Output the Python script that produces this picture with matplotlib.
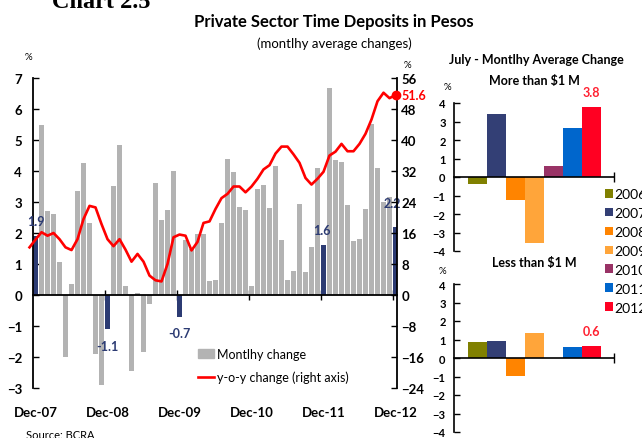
import numpy as np
import matplotlib
matplotlib.use("Agg")
import matplotlib.pyplot as plt
from matplotlib.patches import Patch
from matplotlib.lines import Line2D
import matplotlib.transforms as mtransforms

plt.rcParams['font.family'] = ['Lato', 'DejaVu Sans']

# monthly average change (%), Dec-07 .. Dec-12
monthly = [1.9, 5.5, 2.7, 2.6, 1.05, -2.0, 0.37, 3.37, 4.27, 2.33, -1.9, -2.9,
           -1.1, 3.53, 4.85, 0.3, -2.44, 0.08, -1.83, -0.28, 3.62, 2.43, 2.75, 4.01,
           -0.7, 1.78, 1.5, 1.98, 1.98, 0.46, 0.49, 2.33, 4.4, 3.98, 2.85, 2.75,
           0.3, 3.43, 3.56, 2.82, 4.17, 1.78, 0.49, 0.78, 2.95, 0.75, 1.56, 4.1,
           1.6, 6.68, 4.35, 4.3, 2.9, 1.75, 1.81, 2.77, 5.52, 4.1, 3.0, 3.16,
           2.2]
# year-on-year change (%), Nov-07 .. Dec-12 (right axis)
yoy = [12.3, 14.3, 16.2, 15.3, 16.0, 14.4, 12.3, 11.6, 14.4, 19.6, 23.0, 22.6,
       18.3, 14.4, 12.6, 14.4, 11.7, 8.6, 10.6, 8.6, 5.0, 3.8, 3.5, 8.0,
       14.9, 15.6, 15.3, 11.5, 13.7, 18.6, 19.0, 22.2, 25.0, 26.1, 28.0, 28.0,
       26.5, 28.0, 30.0, 32.4, 33.5, 36.5, 38.3, 38.3, 36.3, 34.1, 30.2, 28.5,
       30.0, 31.8, 36.0, 37.0, 39.0, 37.1, 37.1, 39.0, 41.6, 45.3, 50.0, 52.2,
       50.8, 51.6]
month_labels = ['Dec-07', 'Dec-08', 'Dec-09', 'Dec-10', 'Dec-11', 'Dec-12']
highlight = [0, 12, 24, 48, 60]   # December bars with value labels
hl_offsets = [(0, 11), (0, -12), (0, -12), (-1, 11), (-2, 17)]  # label offsets in points

years = ['2006', '2007', '2008', '2009', '2010', '2011', '2012']
more_1m = [-0.4, 3.4, -1.27, -3.57, 0.61, 2.65, 3.78]
less_1m = [0.86, 0.92, -0.97, 1.35, 0.0, 0.59, 0.63]

gray = '#b3b3b3'
navy = '#2c3b73'
red = '#ff0000'
year_colors = ['#808000', '#333f75', '#ff8400', '#ffa53a', '#993366', '#0066cc', '#ff0022']

W, H = 642, 439
fig = plt.figure(figsize=(W / 100, H / 100), dpi=100)

def fx(px):
    return px / W

def fy(py):
    return 1 - py / H

# ---------- main chart ----------
ax = fig.add_axes([fx(33), fy(389), fx(364), 310 / H])
x = np.arange(len(monthly))
bar_colors = [navy if i in highlight else gray for i in x]
ax.bar(x, monthly, width=0.8, color=bar_colors, zorder=2)
ax.set_xlim(-0.42, 60.25)
ax.set_ylim(-3, 7)
ax.set_yticks(range(-3, 8))
ax.tick_params(axis='y', direction='in', length=4, width=1, pad=8,
               labelsize=9.5)
for t in ax.get_yticklabels():
    t.set_fontweight('bold')
ax.spines['top'].set_visible(False)
ax.spines['right'].set_visible(False)
ax.spines['bottom'].set_position(('data', 0))
ax.spines['left'].set_linewidth(1.3)
ax.spines['bottom'].set_linewidth(1.3)
ax.set_xticks(np.arange(11.5, 61, 12))
ax.set_xticklabels([])
ax.tick_params(axis='x', direction='inout', length=7, width=1)

trans = mtransforms.blended_transform_factory(ax.transData, ax.transAxes)
for i, lab in enumerate(month_labels):
    ax.text(i * 12, -0.077, lab, transform=trans, ha='center', va='center',
            fontsize=9.5, fontweight='bold')

for i, (dx, dy) in zip(highlight, hl_offsets):
    ax.annotate(f'{monthly[i]:.1f}', (i, monthly[i]), xytext=(dx, dy),
                textcoords='offset points', ha='center', va='center',
                fontsize=9, fontweight='bold', color=navy)

ax2 = ax.twinx()
ax2.set_ylim(-24, 56)
ax2.set_yticks(range(-24, 57, 8))
xl = np.arange(-1, len(yoy) - 1)
ax2.plot(xl, yoy, color=red, lw=1.9, clip_on=False, zorder=3)
ax2.plot(xl[-1], yoy[-1], 'o', color=red, ms=6, clip_on=False, zorder=4)
ax2.annotate(f'{yoy[-1]:.1f}', (xl[-1], yoy[-1]), xytext=(4, 0),
             textcoords='offset points', ha='left', va='center',
             fontsize=9, fontweight='bold', color=red)
for s in ['top', 'left', 'bottom']:
    ax2.spines[s].set_visible(False)
ax2.spines['right'].set_linewidth(1.3)
ax2.tick_params(axis='y', direction='in', length=4, width=1, pad=3, labelsize=9.5)
for t in ax2.get_yticklabels():
    t.set_fontweight('bold')

fig.legend(handles=[Patch(color=gray), Line2D([], [], color=red, lw=1.9)],
           labels=['Montlhy change', 'y-o-y change (right axis)'],
           loc='upper left', bbox_to_anchor=(fx(198), fy(349)), frameon=False,
           fontsize=9, handlelength=1.3, handleheight=0.8, handletextpad=0.25,
           labelspacing=0.85, borderpad=0, borderaxespad=0)

# ---------- titles & notes ----------
fig.text(fx(52), fy(8), 'Chart 2.5', family='Liberation Serif', fontweight='bold',
         fontsize=17.5, ha='left', va='baseline')
fig.text(fx(334), fy(22), 'Private Sector Time Deposits in Pesos', fontsize=12,
         fontweight='bold', ha='center', va='center')
fig.text(fx(334), fy(44), '(montlhy average changes)', fontsize=9.5,
         ha='center', va='center')
fig.text(fx(28), fy(57), '%', fontsize=7, ha='center', va='center')
fig.text(fx(407), fy(66), '%', fontsize=7, ha='center', va='center')
fig.text(fx(26), fy(430), 'Source: BCRA', fontsize=8, ha='left', va='top')

fig.text(fx(536), fy(60), 'July - Montlhy Average Change', fontsize=9,
         fontweight='bold', ha='center', va='center')
fig.text(fx(534), fy(81), 'More than $1 M', fontsize=9,
         fontweight='bold', ha='center', va='center')
fig.text(fx(534), fy(263), 'Less than $1 M', fontsize=9,
         fontweight='bold', ha='center', va='center')
fig.text(fx(447), fy(87), '%', fontsize=7, ha='center', va='center')
fig.text(fx(442), fy(271), '%', fontsize=7, ha='center', va='center')

# ---------- right panels ----------
def panel(rect, values):
    p = fig.add_axes(rect)
    bars = p.bar(np.arange(len(values)), values, width=1.0, color=year_colors)
    p.set_xlim(-1.24, 7.18)
    p.set_ylim(-4, 4)
    p.set_yticks(range(-4, 5))
    p.tick_params(axis='y', direction='in', length=4, width=1, pad=6, labelsize=8)
    for t in p.get_yticklabels():
        t.set_fontweight('bold')
    p.spines['top'].set_visible(False)
    p.spines['right'].set_visible(False)
    p.spines['bottom'].set_position(('data', 0))
    p.spines['left'].set_linewidth(1.2)
    p.spines['bottom'].set_linewidth(1.2)
    p.set_xticks([7.18])
    p.set_xticklabels([])
    p.tick_params(axis='x', direction='inout', length=7, width=1)
    p.annotate(f'{values[-1]:.1f}', (len(values) - 1, values[-1]), xytext=(0, 11),
               textcoords='offset points', ha='center', va='center',
               fontsize=9, fontweight='bold', color='#ff2030')
    return bars

bars1 = panel([fx(454), fy(252), fx(160), 148 / H], more_1m)
panel([fx(454), fy(433), fx(160), 148 / H], less_1m)

fig.legend(handles=list(bars1.patches), labels=years, loc='upper left',
           bbox_to_anchor=(fx(605), fy(189)), frameon=False, fontsize=10,
           handlelength=0.6, handleheight=0.6, handletextpad=0.1,
           labelspacing=0.5, borderpad=0, borderaxespad=0)

fig.savefig('out.png', dpi=100)
